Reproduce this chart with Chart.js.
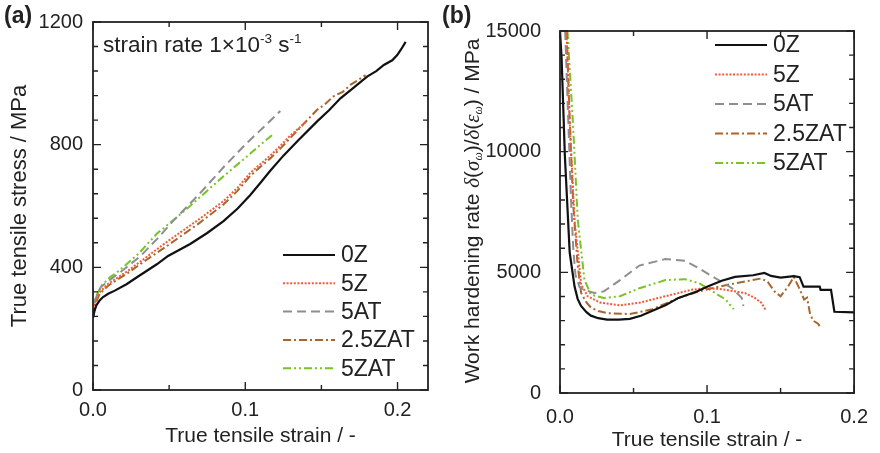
<!DOCTYPE html>
<html>
<head>
<meta charset="utf-8">
<script src="https://cdn.jsdelivr.net/npm/chart.js@4/dist/chart.umd.min.js"></script>
<style>
  body { margin: 0; background: #fff; }
  #wrap { position: relative; width: 880px; height: 453px; font-family: "Liberation Sans", Arial, sans-serif; color: #222; }
  canvas { position: absolute; top: 0; }
  .lbl { position: absolute; white-space: nowrap; line-height: 1; }
  .grk { font-family: "Liberation Serif", "DejaVu Serif", serif; font-style: italic; }
  sup { font-size: 60%; vertical-align: 0.7em; line-height: 0; }
  sub { font-size: 55%; vertical-align: -0.3em; line-height: 0; }
</style>
</head>
<body>
<div id="wrap">
  <canvas id="chartA" width="440" height="453" style="left:0"></canvas>
  <canvas id="chartB" width="440" height="453" style="left:440px"></canvas>
  <div class="lbl" style="left:4px;top:4px;font-size:23px;font-weight:bold">(a)</div>
  <div class="lbl" style="left:442px;top:4px;font-size:23px;font-weight:bold">(b)</div>
  <div class="lbl" style="left:103px;top:34px;font-size:22.5px">strain rate 1×10<sup>-3</sup> s<sup>-1</sup></div>
  <div class="lbl" style="left:472px;top:211px;font-size:21px;transform:translate(-50%,-50%) rotate(-90deg)">Work hardening rate <span class="grk">δ</span>(<span class="grk">σ<sub>ω</sub></span>)/<span class="grk">δ</span>(<span class="grk">ε<sub>ω</sub></span>) / MPa</div>
</div>
<script>
// ---- series names / styles
const seriesNames = ['0Z', '5Z', '5AT', '2.5ZAT', '5ZAT'];
const seriesColors = ['#111111', '#f25a3a', '#8e8e8e', '#a8652c', '#76c426'];
const seriesDash = [[], [2, 1.6], [9, 5], [8, 3, 2, 3], [8, 3, 2, 3, 2, 3]];

// ---- (a) true stress - strain
const strainA_0Z = [0, 0.001, 0.0022, 0.0045, 0.0066, 0.01, 0.0143, 0.022, 0.0296, 0.0419, 0.0493, 0.0638, 0.075, 0.0857, 0.095, 0.1033, 0.11, 0.1164, 0.1252, 0.135, 0.1472, 0.155, 0.1625, 0.171, 0.18, 0.186, 0.191, 0.1965, 0.1998, 0.2025, 0.2053];
const stressA_0Z = [235, 258, 276, 293, 303, 314, 324, 345, 370, 410, 437, 476, 512, 551, 592, 636, 676, 715, 765, 815, 876, 912, 951, 985, 1022, 1040, 1060, 1075, 1092, 1112, 1135];
const strainA_5Z = [0, 0.0015, 0.0044, 0.0099, 0.016, 0.023, 0.035, 0.0493, 0.0528, 0.07, 0.0857, 0.095, 0.1033, 0.11, 0.1164, 0.123, 0.1296, 0.135, 0.14];
const stressA_5Z = [240, 285, 319, 346, 366, 389, 433, 486, 498, 558, 616, 660, 708, 737, 764, 796, 830, 853, 875];
const strainA_5AT = [0, 0.0015, 0.005, 0.01, 0.02, 0.031, 0.042, 0.053, 0.07, 0.086, 0.1, 0.1143, 0.123];
const stressA_5AT = [238, 295, 335, 355, 392, 436, 492, 553, 640, 728, 800, 868, 910];
const strainA_25ZAT = [0, 0.0015, 0.0044, 0.0099, 0.016, 0.023, 0.035, 0.0493, 0.07, 0.0857, 0.095, 0.1033, 0.11, 0.1164, 0.123, 0.1296, 0.138, 0.147, 0.152, 0.158, 0.164, 0.169, 0.174, 0.179];
const stressA_25ZAT = [238, 280, 314, 340, 360, 382, 424, 472, 545, 605, 650, 698, 728, 755, 787, 822, 866, 913, 930, 958, 972, 995, 1010, 1027];
const strainA_5ZAT = [0, 0.0015, 0.0055, 0.0112, 0.0143, 0.022, 0.0296, 0.042, 0.053, 0.0638, 0.075, 0.0857, 0.1, 0.11, 0.1186];
const stressA_5ZAT = [240, 300, 340, 368, 378, 410, 443, 510, 555, 600, 650, 697, 757, 800, 835];

// ---- (b) work hardening rate - strain
const strainB_0Z = [0, 0.0011, 0.0033, 0.0066, 0.0088, 0.0099, 0.012, 0.0143, 0.018, 0.021, 0.026, 0.032, 0.04, 0.0475, 0.055, 0.0629, 0.072, 0.0806, 0.093, 0.1004, 0.11, 0.119, 0.1313, 0.139, 0.1435, 0.15, 0.159, 0.163, 0.1656, 0.1766, 0.1772, 0.1843, 0.1866, 0.2];
const rateB_0Z = [15000, 13860, 9840, 5820, 4880, 4410, 3900, 3607, 3350, 3205, 3100, 3044, 3040, 3070, 3200, 3405, 3650, 3941, 4209, 4410, 4650, 4812, 4879, 4973, 4852, 4785, 4839, 4800, 4410, 4410, 4276, 4276, 3366, 3340];
const strainB_5Z = [0.0044, 0.0066, 0.0099, 0.0144, 0.0188, 0.0276, 0.0408, 0.054, 0.0717, 0.0894, 0.1, 0.11, 0.1258, 0.1325, 0.1369, 0.1402];
const rateB_5Z = [15000, 11180, 7160, 4500, 4007, 3740, 3631, 3740, 4009, 4276, 4350, 4300, 4142, 3941, 3740, 3405];
const strainB_5AT = [0.0035, 0.0055, 0.0075, 0.009, 0.0105, 0.0132, 0.0166, 0.0232, 0.0298, 0.0408, 0.054, 0.0717, 0.085, 0.095, 0.106, 0.117, 0.1236, 0.1247];
const rateB_5AT = [15000, 11500, 8000, 6000, 4900, 4400, 4276, 4142, 4209, 4678, 5281, 5550, 5483, 5148, 4745, 4343, 3941, 3607];
const strainB_25ZAT = [0.0045, 0.0065, 0.009, 0.012, 0.0144, 0.018, 0.021, 0.026, 0.032, 0.0475, 0.0629, 0.0806, 0.0927, 0.1004, 0.106, 0.1214, 0.1369, 0.1413, 0.146, 0.15, 0.155, 0.159, 0.163, 0.166, 0.168, 0.17, 0.172, 0.1755, 0.1777];
const rateB_25ZAT = [15000, 11500, 7800, 5300, 4142, 3750, 3539, 3400, 3310, 3270, 3471, 3941, 4170, 4300, 4380, 4571, 4745, 4600, 4200, 4009, 4400, 4812, 4300, 3873, 3950, 3300, 3003, 2870, 2667];
const strainB_5ZAT = [0.0051, 0.0088, 0.0121, 0.0166, 0.021, 0.0298, 0.0408, 0.054, 0.0717, 0.085, 0.0949, 0.1038, 0.1126, 0.1181];
const rateB_5ZAT = [15000, 11180, 7160, 4700, 4075, 3941, 4009, 4343, 4678, 4718, 4544, 4209, 3873, 3471];

// ---- tick labels and minor ticks
const xTicksA = [0, 0.1, 0.2];
const xMinorA = [0.05, 0.15];
const yTicksA = [0, 400, 800, 1200];
const yMinorA = [80, 160, 240, 320, 480, 560, 640, 720, 880, 960, 1040, 1120];
const xTicksB = [0, 0.1, 0.2];
const xMinorB = [0.05, 0.15];
const yTicksB = [0, 5000, 10000, 15000];
const yMinorB = [1000, 2000, 3000, 4000, 6000, 7000, 8000, 9000, 11000, 12000, 13000, 14000];

const FONT = '"Liberation Sans", Arial, sans-serif';
Chart.defaults.font.family = FONT;
Chart.defaults.color = '#222';

function pts(xs, ys) { return xs.map((x, i) => ({ x: x, y: ys[i] })); }

function makeSets(pairs) {
  return pairs.map((p, i) => ({
    label: seriesNames[i],
    data: pts(p[0], p[1]),
    borderColor: seriesColors[i],
    borderDash: seriesDash[i],
    borderWidth: i === 0 ? 2.2 : 2,
    pointRadius: 0,
    tension: 0,
    fill: false
  }));
}

// frame round the plot with inward major/minor ticks on all four sides
const frameTicks = {
  id: 'frameTicks',
  afterDatasetsDraw(chart, args, o) {
    const { ctx, chartArea: a, scales: { x, y } } = chart;
    ctx.save();
    ctx.strokeStyle = '#222';
    ctx.lineWidth = 1.8;
    ctx.strokeRect(a.left, a.top, a.right - a.left, a.bottom - a.top);
    ctx.lineWidth = 1.4;
    const xs = (vals, len) => vals.forEach(v => {
      const px = x.getPixelForValue(v);
      ctx.beginPath();
      ctx.moveTo(px, a.bottom); ctx.lineTo(px, a.bottom - len);
      ctx.moveTo(px, a.top); ctx.lineTo(px, a.top + len);
      ctx.stroke();
    });
    const ys = (vals, len) => vals.forEach(v => {
      const py = y.getPixelForValue(v);
      ctx.beginPath();
      ctx.moveTo(a.left, py); ctx.lineTo(a.left + len, py);
      ctx.moveTo(a.right, py); ctx.lineTo(a.right - len, py);
      ctx.stroke();
    });
    xs(o.xMajor, 8); xs(o.xMinor, 5);
    ys(o.yMajor, 8); ys(o.yMinor, 5);
    ctx.restore();
  }
};

// legend inside the plot, line samples taken from the datasets
const boxLegend = {
  id: 'boxLegend',
  afterDatasetsDraw(chart, args, o) {
    const ctx = chart.ctx;
    ctx.save();
    chart.data.datasets.forEach((ds, i) => {
      const yy = o.y + i * o.gap;
      ctx.strokeStyle = ds.borderColor;
      ctx.lineWidth = ds.borderWidth;
      ctx.setLineDash(ds.borderDash);
      ctx.beginPath();
      ctx.moveTo(o.x, yy); ctx.lineTo(o.x + o.len, yy);
      ctx.stroke();
      ctx.setLineDash([]);
      ctx.fillStyle = '#222';
      ctx.font = o.size + 'px ' + FONT;
      ctx.textBaseline = 'middle';
      ctx.textAlign = 'left';
      ctx.fillText(ds.label, o.x + o.len + 6, yy + 1);
    });
    ctx.restore();
  }
};

function makeChart(id, sets, c) {
  return new Chart(document.getElementById(id), {
    type: 'line',
    data: { datasets: sets },
    plugins: [frameTicks, boxLegend],
    options: {
      responsive: false,
      animation: false,
      layout: { padding: { top: 20, right: c.padRight, left: 0, bottom: 0 } },
      plugins: {
        legend: { display: false },
        tooltip: { enabled: false },
        frameTicks: { xMajor: c.xTicks, xMinor: c.xMinor, yMajor: c.yTicks, yMinor: c.yMinor },
        boxLegend: c.legend
      },
      scales: {
        x: {
          type: 'linear', min: 0, max: c.xMax,
          grid: { display: false, drawTicks: false },
          border: { display: false },
          afterBuildTicks: s => { s.ticks = c.xTicks.map(v => ({ value: v })); },
          afterFit: s => { s.height = c.bottomH; },
          ticks: { font: { size: 20 }, padding: c.xPad, maxRotation: 0, callback: v => v.toFixed(1) },
          title: { display: true, text: 'True tensile strain / -', font: { size: 21 }, padding: { top: 0, bottom: c.xTitlePad } }
        },
        y: {
          type: 'linear', min: 0, max: c.yMax,
          grid: { display: false, drawTicks: false },
          border: { display: false },
          afterBuildTicks: s => { s.ticks = c.yTicks.map(v => ({ value: v })); },
          afterFit: s => { s.width = c.leftW; },
          ticks: { font: { size: 20 }, padding: c.yPad, callback: v => String(v) },
          title: { display: !!c.yTitle, text: c.yTitle || '', font: { size: 22 }, padding: { top: 7, bottom: 0 } }
        }
      }
    }
  });
}

makeChart('chartA', makeSets([
  [strainA_0Z, stressA_0Z], [strainA_5Z, stressA_5Z], [strainA_5AT, stressA_5AT],
  [strainA_25ZAT, stressA_25ZAT], [strainA_5ZAT, stressA_5ZAT]
]), {
  xMax: 0.22, yMax: 1200, xTicks: xTicksA, xMinor: xMinorA, yTicks: yTicksA, yMinor: yMinorA,
  padRight: 12, leftW: 93, bottomH: 63, xPad: 8, yPad: 10, xTitlePad: 4,
  yTitle: 'True tensile stress / MPa',
  legend: { x: 283, y: 255, gap: 28.3, len: 52, size: 23 }
});

makeChart('chartB', makeSets([
  [strainB_0Z, rateB_0Z], [strainB_5Z, rateB_5Z], [strainB_5AT, rateB_5AT],
  [strainB_25ZAT, rateB_25ZAT], [strainB_5ZAT, rateB_5ZAT]
]), {
  xMax: 0.2, yMax: 15000, xTicks: xTicksB, xMinor: xMinorB, yTicks: yTicksB, yMinor: yMinorB,
  padRight: 18, leftW: 120, bottomH: 60, xPad: 12, yPad: 19, xTitlePad: 0,
  yTitle: null,
  legend: { x: 275, y: 45, gap: 29.5, len: 52, size: 23 }
});
</script>
</body>
</html>
